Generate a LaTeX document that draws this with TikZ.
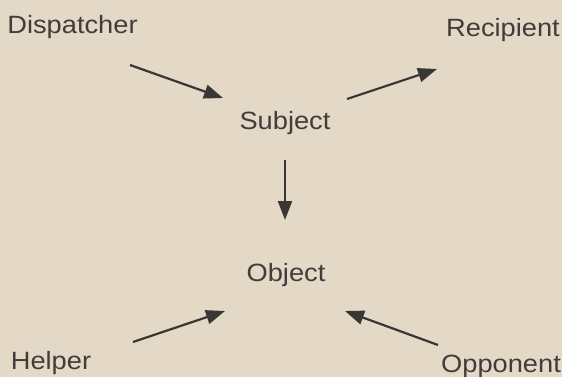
\documentclass[tikz,border=0pt]{standalone}
\usepackage{fontspec}
\setmainfont{Liberation Sans}
\usetikzlibrary{arrows.meta}
\definecolor{paper}{RGB}{227,217,198}
\definecolor{ink}{RGB}{66,61,58}
\definecolor{arrowink}{RGB}{58,54,52}
\begin{document}
\begin{tikzpicture}[x=1pt,y=-1pt,
  lbl/.style={anchor=base,inner sep=0pt,text=ink,xscale=1.09,font=\fontsize{25}{28}\selectfont},
  conn/.style={draw=arrowink,line width=2.2pt,-{Triangle[length=19pt,width=14pt]}}]
  \fill[paper] (0,0) rectangle (562,377);
  \useasboundingbox (0,0) rectangle (562,377);
  \node[lbl] (disp) at (72.5,34) {Dispatcher};
  \node[lbl] (reci) at (503,37) {Recipient};
  \node[lbl] (subj) at (285,129) {Subject};
  \node[lbl] (obj)  at (286,281) {Object};
  \node[lbl] (help) at (51,369) {Helper};
  \node[lbl] (oppo) at (501,372) {Opponent};
  \coordinate (d1) at (130,65);  \coordinate (d2) at (223,98);
  \coordinate (r1) at (347,99);  \coordinate (r2) at (437,69);
  \coordinate (s1) at (285,160); \coordinate (s2) at (285,220);
  \coordinate (h1) at (133,342); \coordinate (h2) at (225,311);
  \coordinate (o1) at (438,345); \coordinate (o2) at (345,311);
  \draw[conn] (d1) -- (d2);
  \draw[conn] (r1) -- (r2);
  \draw[conn] (s1) -- (s2);
  \draw[conn] (h1) -- (h2);
  \draw[conn] (o1) -- (o2);
\end{tikzpicture}
\end{document}
